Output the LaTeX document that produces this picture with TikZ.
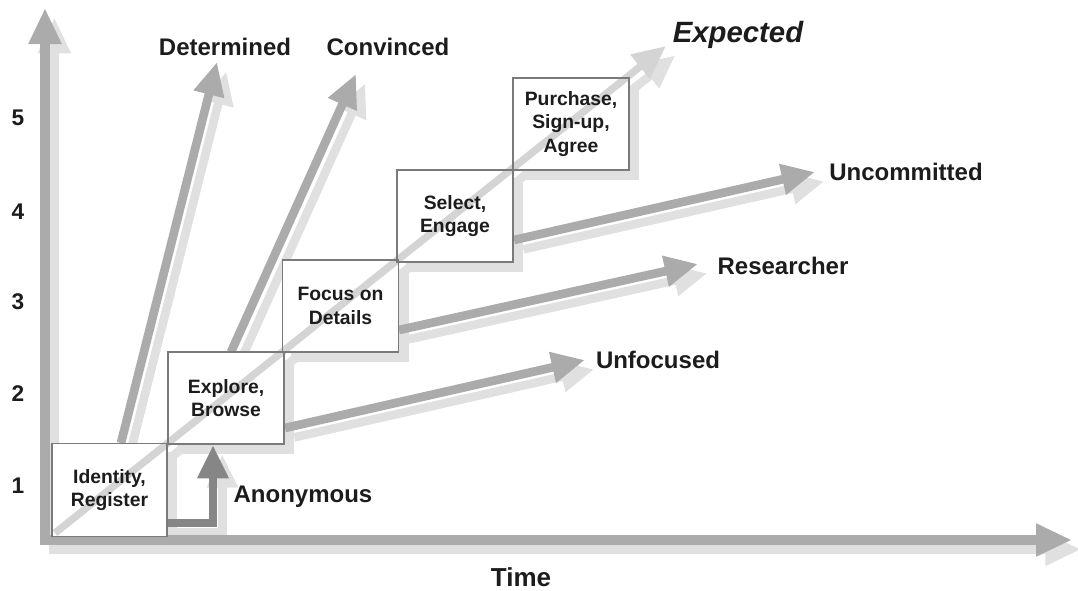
\documentclass[tikz,border=0pt]{standalone}
\usepackage{fontspec}
\setmainfont{Liberation Sans}
\usetikzlibrary{arrows.meta}
\pgfdeclarelayer{bg}
\pgfdeclarelayer{mid}
\pgfsetlayers{bg,mid,main}
\definecolor{arr}{HTML}{ABABAB}
\definecolor{shad}{HTML}{E0E0E0}
\definecolor{expc}{HTML}{D4D4D4}
\definecolor{anon}{HTML}{868686}
\definecolor{boxline}{HTML}{7A7A7A}
\definecolor{txt}{HTML}{1C1C1C}
\begin{document}
\begin{tikzpicture}[x=0.75pt,y=-0.75pt,
  box/.style={draw=boxline, line width=1.1pt, minimum width=87pt, minimum height=69pt, align=center,
              font=\fontsize{14.5}{17.5}\selectfont\bfseries, text=txt, inner sep=0pt},
  lbl/.style={font=\fontsize{18}{21}\selectfont\bfseries, text=txt, inner sep=0pt},
  num/.style={font=\fontsize{17}{20}\selectfont\bfseries, text=txt, inner sep=0pt},
  tip/.style={-{Triangle[width=22pt,length=25pt]}},
  garrow/.style={tip, draw=arr, line width=6.5pt},
  sarrow/.style={tip, draw=shad, line width=6.5pt},
  axis/.style={{Triangle[width=23pt,length=27pt]}-{Triangle[width=23pt,length=27pt]}, line width=7.5pt, line join=miter},
  shadowed/.style={transform canvas={xshift=7pt,yshift=-7pt}},
]
\useasboundingbox (0,0) rectangle (1078,590);

% boxes
\node[box, minimum width=86pt, minimum height=70pt] (id) at (109.5,490) {Identity,\\Register};
\node[box] (exp) at (226,398) {Explore,\\Browse};
\node[box] (foc) at (340.5,306) {Focus on\\Details};
\node[box] (sel) at (455,216) {Select,\\Engage};
\node[box] (pur) at (571,124) {Purchase,\\Sign-up,\\Agree};

% labels
\node[lbl] (ldet) at (225,47) {Determined};
\node[lbl] (lcon) at (388,47) {Convinced};
\node[lbl, font=\fontsize{22}{26}\selectfont\bfseries\itshape] (lexp) at (738,35) {Expected};
\node[lbl] (lunc) at (906,172) {Uncommitted};
\node[lbl] (lres) at (783,266) {Researcher};
\node[lbl] (lunf) at (658,360) {Unfocused};
\node[lbl] (lano) at (303,497) {Anonymous};
\node[lbl, font=\fontsize{19.5}{23}\selectfont\bfseries] (ltime) at (521,577) {Time};

\node[num] (n5) at (18,118) {5};
\node[num] (n4) at (18,212) {4};
\node[num] (n3) at (18,302) {3};
\node[num] (n2) at (18,394) {2};
\node[num] (n1) at (18,486) {1};

% coordinates
\coordinate (O) at (45,540);
\coordinate (ytip) at (45,8);
\coordinate (xtip) at (1072,540);
\coordinate (dS) at (121,443);
\coordinate (dT) at (217,62);
\coordinate (cS) at (231,352);
\coordinate (cT) at (356,74);
\coordinate (fS) at (285,428);
\coordinate (fT) at (585,360);
\coordinate (rS) at (399,330);
\coordinate (rT) at (698,264);
\coordinate (uS) at (514,240);
\coordinate (uT) at (815,172);
\coordinate (eS) at (55,533);
\coordinate (eT) at (666,46);
\coordinate (aS) at (168,523);
\coordinate (aC) at (213,523);
\coordinate (aT) at (213,445);

\begin{pgfonlayer}{bg}
  % shadows
  \begin{scope}[shadowed]
    \draw[axis, draw=shad] (ytip) -- (O) -- (xtip);
    \foreach \s/\t in {dS/dT, cS/cT, fS/fT, rS/rT, uS/uT, eS/eT}
      \draw[sarrow] (\s) -- (\t);
    \draw[sarrow, line join=miter] (aS) -- (aC) -- (aT);
    \foreach \b in {id, exp, foc, sel, pur}
      \fill[shad] (\b.north west) rectangle (\b.south east);
  \end{scope}
  % axes
  \draw[axis, draw=arr] (ytip) -- (O) -- (xtip);
  % arrows
  \draw[garrow] (dS) -- (dT);
  \draw[garrow] (cS) -- (cT);
  \draw[garrow] (fS) -- (fT);
  \draw[garrow] (rS) -- (rT);
  \draw[garrow] (uS) -- (uT);
  \draw[tip, draw=anon, line width=6.5pt, line join=miter] (aS) -- (aC) -- (aT);
  % box fills
  \foreach \b in {id, exp, foc, sel, pur}
    \fill[white] (\b.north west) rectangle (\b.south east);
\end{pgfonlayer}

\begin{pgfonlayer}{mid}
  \draw[tip, draw=expc, line width=5.5pt] (eS) -- (eT);
\end{pgfonlayer}

\end{tikzpicture}
\end{document}
